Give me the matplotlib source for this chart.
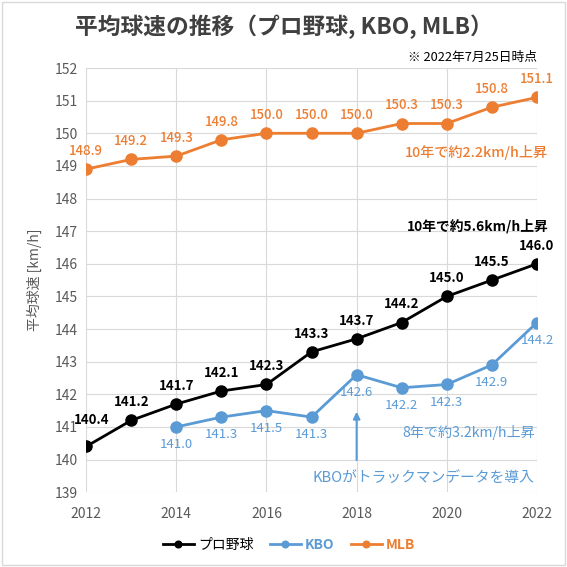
import matplotlib
matplotlib.use('Agg')
import matplotlib.pyplot as plt

plt.rcParams['font.family'] = ['Noto Sans CJK JP', 'DejaVu Sans']

# data
npb_years = [2012, 2013, 2014, 2015, 2016, 2017, 2018, 2019, 2020, 2021, 2022]
npb_speed = [140.4, 141.2, 141.7, 142.1, 142.3, 143.3, 143.7, 144.2, 145.0, 145.5, 146.0]
kbo_years = [2014, 2015, 2016, 2017, 2018, 2019, 2020, 2021, 2022]
kbo_speed = [141.0, 141.3, 141.5, 141.3, 142.6, 142.2, 142.3, 142.9, 144.2]
mlb_years = [2012, 2013, 2014, 2015, 2016, 2017, 2018, 2019, 2020, 2021, 2022]
mlb_speed = [148.9, 149.2, 149.3, 149.8, 150.0, 150.0, 150.0, 150.3, 150.3, 150.8, 151.1]

BLACK = '#000000'
BLUE = '#5B9BD5'
ORANGE = '#ED7D31'
GRAY = '#595959'

fig = plt.figure(figsize=(5.67, 5.67), dpi=100)
ax = fig.add_axes([0.152, 0.132, 0.795, 0.748])

ax.plot(npb_years, npb_speed, color=BLACK, marker='o', ms=8, lw=2, label='プロ野球', zorder=4)
ax.plot(kbo_years, kbo_speed, color=BLUE, marker='o', ms=8, lw=2, label='KBO', zorder=3)
ax.plot(mlb_years, mlb_speed, color=ORANGE, marker='o', ms=8, lw=2, label='MLB', zorder=3)

# point labels
for x, y in zip(npb_years, npb_speed):
    off = (4, 14) if x == 2012 else (0, 8)
    ax.annotate(f'{y:.1f}', (x, y), xytext=off, textcoords='offset points',
                ha='center', va='bottom', fontsize=9.5, fontweight='bold', color=BLACK)
for x, y in zip(kbo_years, kbo_speed):
    ax.annotate(f'{y:.1f}', (x, y), xytext=(0, -8), textcoords='offset points',
                ha='center', va='top', fontsize=9.5, color=BLUE)
for x, y in zip(mlb_years, mlb_speed):
    ax.annotate(f'{y:.1f}', (x, y), xytext=(0, 8), textcoords='offset points',
                ha='center', va='bottom', fontsize=9.5, fontweight='medium', color=ORANGE)

# notes
ax.text(2022.25, 149.4, '10年で約2.2km/h上昇', ha='right', va='center', fontsize=10.2,
        fontweight='medium', color=ORANGE)
ax.text(2022.25, 147.15, '10年で約5.6km/h上昇', ha='right', va='center', fontsize=9.9,
        fontweight='bold', color=BLACK)
ax.text(2021.95, 140.83, '8年で約3.2km/h上昇', ha='right', va='center', fontsize=10.2, color=BLUE)
ax.text(2021.95, 139.42, 'KBOがトラックマンデータを導入', ha='right', va='center', fontsize=10.6, color=BLUE)
ax.annotate('', xy=(2018, 141.55), xytext=(2018, 139.9),
            arrowprops=dict(arrowstyle='-|>', color=BLUE, lw=1.5, mutation_scale=10))

ax.set_xlim(2012, 2022)
ax.set_ylim(139, 152)
ax.set_xticks(range(2012, 2023, 2))
ax.set_yticks(range(139, 153))
ax.grid(True, color='#d9d9d9', lw=0.8)
ax.set_axisbelow(True)
for s in ax.spines.values():
    s.set_visible(False)
ax.tick_params(length=0, labelsize=10, colors=GRAY, pad=6)
ax.tick_params(axis='x', pad=11)
ax.set_ylabel('平均球速 [km/h]', fontsize=10, color=GRAY, labelpad=9)

fig.text(0.5, 1 - 27 / 567, '平均球速の推移（プロ野球, KBO, MLB）', ha='center', va='center',
         fontsize=16.4, fontweight='bold', color='#404040')
fig.text(537 / 567, 1 - 57 / 567, '※ 2022年7月25日時点', ha='right', va='center', fontsize=9.2, color=BLACK)

leg = ax.legend(loc='center', bbox_to_anchor=(0.45, -0.125), ncol=3, frameon=False,
                fontsize=10, handlelength=2.2, columnspacing=1.2, handletextpad=0.3,
                markerscale=0.6)
for t, c in zip(leg.get_texts(), [BLACK, BLUE, ORANGE]):
    t.set_color(c)
leg.get_texts()[1].set_fontweight('bold')
leg.get_texts()[2].set_fontweight('bold')

fig.patches.append(plt.Rectangle((0.003, 0.003), 0.994, 0.994, transform=fig.transFigure,
                                 fill=False, edgecolor='#d9d9d9', lw=1))

fig.savefig('out.png', dpi=100)
